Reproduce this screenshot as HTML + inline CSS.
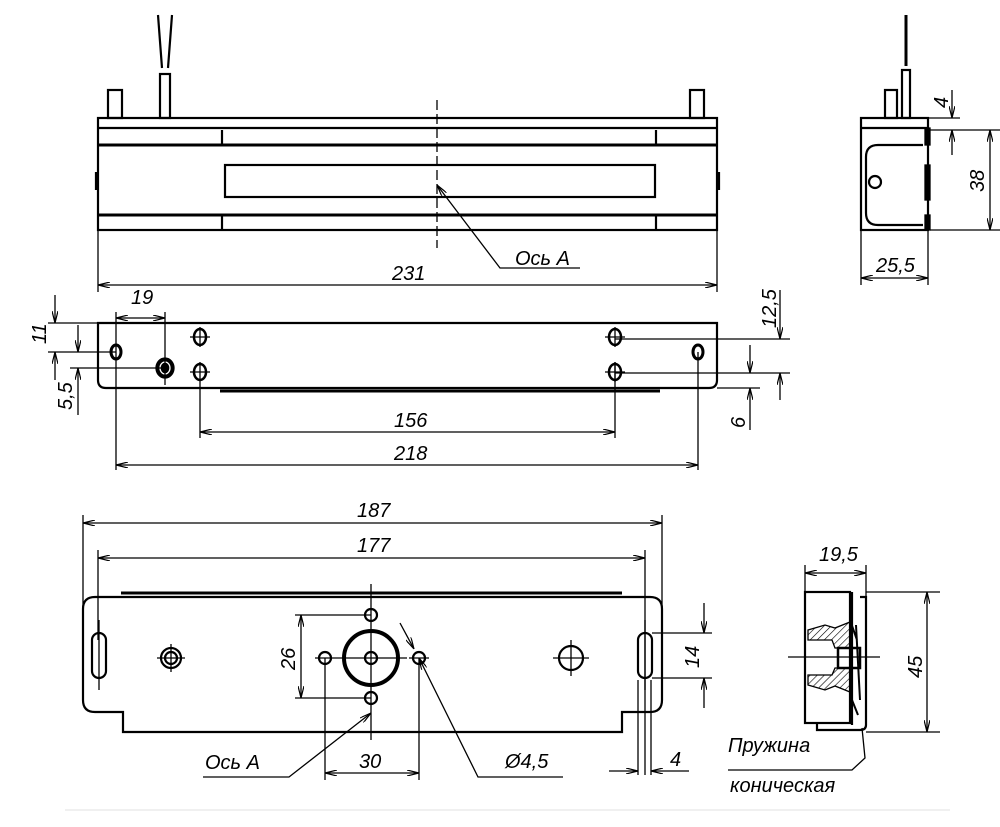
<!DOCTYPE html>
<html><head><meta charset="utf-8"><style>html,body{margin:0;padding:0;background:#fff}svg{display:block}text{font-family:"Liberation Sans",sans-serif;font-style:italic;font-size:20px;fill:#000}</style></head><body>
<svg width="1000" height="827" viewBox="0 0 1000 827" xmlns="http://www.w3.org/2000/svg">
<defs>
<marker id="a" viewBox="0 0 12 6" refX="12" refY="3" markerWidth="12" markerHeight="6" orient="auto-start-reverse" markerUnits="userSpaceOnUse"><path d="M0,0 L12,3 L0,6" fill="none" stroke="#000" stroke-width="1.2"/></marker>
<pattern id="h" width="5" height="5" patternUnits="userSpaceOnUse" patternTransform="rotate(45)"><line x1="0" y1="0" x2="0" y2="5" stroke="#000" stroke-width="1.2"/></pattern>
</defs>
<g fill="none" stroke="#000" stroke-width="1.3">
<!-- TOP VIEW -->
<g stroke-width="2.2">
<rect x="98" y="118" width="619" height="112"/>
<line x1="98" y1="128" x2="717" y2="128"/>
<line x1="98" y1="145" x2="717" y2="145" stroke-width="3"/>
<line x1="98" y1="215" x2="717" y2="215" stroke-width="3"/>
<line x1="222" y1="130" x2="222" y2="145"/><line x1="656" y1="130" x2="656" y2="145"/>
<line x1="222" y1="215" x2="222" y2="230"/><line x1="656" y1="215" x2="656" y2="230"/>
<rect x="225" y="165" width="430" height="32"/>
<rect x="108" y="90" width="14" height="28"/>
<rect x="690" y="90" width="14" height="28"/>
<rect x="160" y="74" width="10" height="44"/>
<path d="M158,15 L162,68 M172,15 L168,68"/>
<path d="M96,172 V190 M719,172 V190"/>
</g>
<line x1="437" y1="100" x2="437" y2="248" stroke-dasharray="10,4"/>
<path d="M437,185 L500,268 L580,268" marker-start="url(#a)"/>
<line x1="98" y1="230" x2="98" y2="292"/><line x1="717" y1="230" x2="717" y2="292"/>
<line x1="98" y1="285" x2="717" y2="285" marker-start="url(#a)" marker-end="url(#a)"/>
<!-- RIGHT SIDE VIEW -->
<g stroke-width="2.2">
<rect x="861" y="118" width="67" height="112"/>
<line x1="861" y1="128" x2="928" y2="128"/>
<path d="M923,145 L878,145 Q866,145 866,157 L866,213 Q866,225 878,225 L923,225"/>
<circle cx="875" cy="182" r="6"/>
<rect x="885" y="90" width="12" height="28"/>
<rect x="902" y="70" width="8" height="48"/>
<line x1="906" y1="15" x2="906" y2="66" stroke-width="3"/>
</g>
<rect x="925" y="128" width="5" height="17" fill="#000"/>
<rect x="925" y="165" width="5" height="35" fill="#000"/>
<rect x="925" y="215" width="5" height="15" fill="#000"/>
<line x1="928" y1="118" x2="960" y2="118"/><line x1="930" y1="130" x2="1000" y2="130"/><line x1="930" y1="230" x2="1000" y2="230"/>
<line x1="952" y1="90" x2="952" y2="118" marker-end="url(#a)"/>
<line x1="952" y1="155" x2="952" y2="130" marker-end="url(#a)"/>
<line x1="990" y1="130" x2="990" y2="230" marker-start="url(#a)" marker-end="url(#a)"/>
<line x1="861" y1="230" x2="861" y2="285"/><line x1="928" y1="230" x2="928" y2="285"/>
<line x1="861" y1="278" x2="928" y2="278" marker-start="url(#a)" marker-end="url(#a)"/>
<!-- MIDDLE PLAN VIEW -->
<path d="M98,323 L717,323 L717,380 Q717,388 709,388 L106,388 Q98,388 98,380 Z" stroke-width="2.2"/>
<line x1="220" y1="391" x2="660" y2="391" stroke-width="3"/>
<g stroke-width="3"><ellipse cx="116" cy="352" rx="5" ry="7"/><ellipse cx="698" cy="352" rx="5" ry="7"/></g>
<ellipse cx="165" cy="368" rx="9" ry="10" fill="#000"/><ellipse cx="165" cy="368" rx="5" ry="6" stroke="#fff"/>
<g stroke-width="2.5"><ellipse cx="200" cy="337" rx="6" ry="8"/><ellipse cx="200" cy="372" rx="6" ry="8"/><ellipse cx="615" cy="337" rx="6" ry="8"/><ellipse cx="615" cy="372" rx="6" ry="8"/></g>
<path d="M190,337 H210 M200,327 V347 M190,372 H210 M605,337 H625 M615,327 V347 M605,372 H625 M615,362 V382"/>
<line x1="116" y1="312" x2="116" y2="470"/><line x1="165" y1="312" x2="165" y2="385"/>
<line x1="116" y1="318" x2="165" y2="318" marker-start="url(#a)" marker-end="url(#a)"/>
<line x1="200" y1="362" x2="200" y2="438"/><line x1="615" y1="362" x2="615" y2="438"/>
<line x1="200" y1="432" x2="615" y2="432" marker-start="url(#a)" marker-end="url(#a)"/>
<line x1="698" y1="352" x2="698" y2="470"/>
<line x1="116" y1="465" x2="698" y2="465" marker-start="url(#a)" marker-end="url(#a)"/>
<line x1="48" y1="323" x2="98" y2="323"/><line x1="48" y1="352" x2="116" y2="352"/><line x1="70" y1="368" x2="165" y2="368"/>
<line x1="55" y1="295" x2="55" y2="323" marker-end="url(#a)"/><line x1="55" y1="380" x2="55" y2="352" marker-end="url(#a)"/>
<line x1="78" y1="325" x2="78" y2="352" marker-end="url(#a)"/><line x1="78" y1="415" x2="78" y2="368" marker-end="url(#a)"/>
<line x1="615" y1="339" x2="790" y2="339"/><line x1="615" y1="373" x2="790" y2="373"/><line x1="717" y1="388" x2="760" y2="388"/>
<line x1="780" y1="290" x2="780" y2="339" marker-end="url(#a)"/><line x1="780" y1="400" x2="780" y2="373" marker-end="url(#a)"/>
<line x1="750" y1="345" x2="750" y2="373" marker-end="url(#a)"/><line x1="750" y1="430" x2="750" y2="388" marker-end="url(#a)"/>
<!-- BOTTOM VIEW -->
<line x1="121" y1="593" x2="622" y2="593" stroke-width="3"/>
<path d="M95,597 L650,597 Q662,597 662,609 L662,700 Q662,712 650,712 L622,712 L622,732 L123,732 L123,712 L95,712 Q83,712 83,700 L83,609 Q83,597 95,597 Z" stroke-width="2.2"/>
<g stroke-width="2.2">
<rect x="92" y="633" width="14" height="45" rx="7"/><rect x="638" y="633" width="14" height="45" rx="7"/>
<circle cx="171" cy="658" r="10"/><circle cx="171" cy="658" r="6"/>
<circle cx="371" cy="658" r="27" stroke-width="4"/><circle cx="371" cy="658" r="6"/>
<circle cx="371" cy="615" r="6"/><circle cx="371" cy="698" r="6"/><circle cx="325" cy="658" r="6"/><circle cx="419" cy="658" r="6"/>
<circle cx="571" cy="658" r="12"/>
</g>
<path d="M99,620 V690 M645,620 V690 M157,658 H185 M171,644 V672 M335,658 H407 M371,584 V740 M315,658 H335 M409,658 H429 M553,658 H589 M571,640 V676"/>
<line x1="83" y1="515" x2="83" y2="610"/><line x1="662" y1="515" x2="662" y2="610"/>
<line x1="83" y1="523" x2="662" y2="523" marker-start="url(#a)" marker-end="url(#a)"/>
<line x1="98" y1="550" x2="98" y2="640"/><line x1="645" y1="550" x2="645" y2="775"/><line x1="651" y1="680" x2="651" y2="775"/><line x1="638" y1="680" x2="638" y2="775"/>
<line x1="98" y1="558" x2="645" y2="558" marker-start="url(#a)" marker-end="url(#a)"/>
<line x1="295" y1="615" x2="371" y2="615"/><line x1="295" y1="698" x2="371" y2="698"/>
<line x1="301" y1="615" x2="301" y2="698" marker-start="url(#a)" marker-end="url(#a)"/>
<line x1="325" y1="658" x2="325" y2="780"/><line x1="419" y1="658" x2="419" y2="780"/>
<line x1="325" y1="773" x2="419" y2="773" marker-start="url(#a)" marker-end="url(#a)"/>
<path d="M419,658 L478,777 L563,777" marker-start="url(#a)"/>
<line x1="400" y1="623" x2="414" y2="649" marker-end="url(#a)"/>
<path d="M371,713 L289,777 L203,777" marker-start="url(#a)"/>
<line x1="652" y1="633" x2="712" y2="633"/><line x1="652" y1="678" x2="712" y2="678"/>
<line x1="704" y1="603" x2="704" y2="633" marker-end="url(#a)"/><line x1="704" y1="708" x2="704" y2="678" marker-end="url(#a)"/>
<line x1="609" y1="771" x2="638" y2="771" marker-end="url(#a)"/><line x1="689" y1="771" x2="651" y2="771" marker-end="url(#a)"/>
<!-- SECTION VIEW -->
<g stroke-width="2.2">
<rect x="805" y="592" width="45" height="131"/>
<path d="M852,592 V725 M860,597 H866 V725 Q866,730 860,730 L817,730 V723"/>
</g>
<path d="M808,630 L825,625 L835,628 L850,622 L850,648 L835,648 L832,640 L808,640 Z" fill="url(#h)"/>
<path d="M808,675 L832,675 L835,668 L850,668 L850,692 L835,686 L825,690 L808,685 Z" fill="url(#h)"/>
<rect x="838" y="648" width="22" height="20" stroke-width="2.5"/>
<path d="M850,620 L857,640 M850,695 L858,715 M856,625 L860,700" stroke-width="2"/>
<line x1="788" y1="657" x2="880" y2="657"/>
<line x1="805" y1="565" x2="805" y2="592"/><line x1="866" y1="565" x2="866" y2="597"/>
<line x1="805" y1="573" x2="866" y2="573" marker-start="url(#a)" marker-end="url(#a)"/>
<line x1="866" y1="592" x2="940" y2="592"/><line x1="866" y1="732" x2="940" y2="732"/>
<line x1="927" y1="592" x2="927" y2="732" marker-start="url(#a)" marker-end="url(#a)"/>
<path d="M728,770 L852,770 L865,758 L862,728"/>
<line x1="65" y1="810" x2="950" y2="810" stroke="#e6e6e6"/>
</g>
<text x="515" y="265" font-size="21">Ось А</text>
<text x="392" y="280">231</text>
<text x="876" y="272">25,5</text>
<text transform="translate(948,108) rotate(-90)" font-size="17">4</text>
<text transform="translate(984,192) rotate(-90)">38</text>
<text x="131" y="304" font-size="18">19</text>
<text transform="translate(46,344) rotate(-90)" font-size="18">11</text>
<text transform="translate(72,410) rotate(-90)" font-size="18">5,5</text>
<text transform="translate(776,328) rotate(-90)" font-size="18">12,5</text>
<text transform="translate(745,428) rotate(-90)" font-size="18">6</text>
<text x="394" y="427">156</text>
<text x="394" y="460">218</text>
<text x="357" y="517">187</text>
<text x="357" y="552">177</text>
<text transform="translate(295,670) rotate(-90)">26</text>
<text transform="translate(699,668) rotate(-90)">14</text>
<text x="205" y="769" font-size="22">Ось А</text>
<text x="359" y="768">30</text>
<text x="505" y="768" font-size="22">Ø4,5</text>
<text x="670" y="766">4</text>
<text x="819" y="561">19,5</text>
<text transform="translate(922,678) rotate(-90)">45</text>
<text x="728" y="752" font-size="16">Пружина</text>
<text x="730" y="792" font-size="16">коническая</text>
</svg>
</body></html>
